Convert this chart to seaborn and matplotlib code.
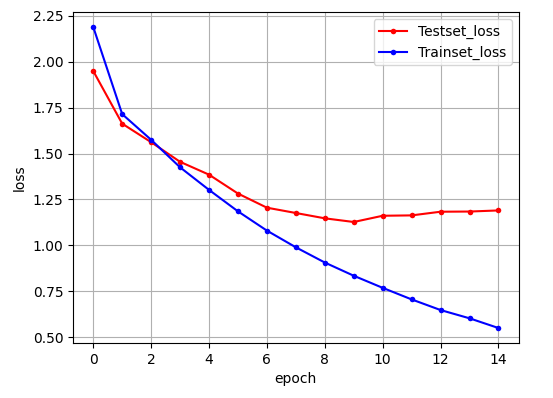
import numpy as np
import pandas as pd
import seaborn as sns
import matplotlib
matplotlib.use('Agg')
import matplotlib.pyplot as plt

epoch = list(range(15))
test_loss = [1.95, 1.663, 1.562, 1.455, 1.385, 1.282, 1.205, 1.176, 1.147, 1.127,
             1.161, 1.163, 1.183, 1.184, 1.19]
train_loss = [2.19, 1.715, 1.575, 1.425, 1.302, 1.185, 1.08, 0.989, 0.906, 0.834,
              0.768, 0.705, 0.647, 0.602, 0.549]

df = pd.DataFrame({'epoch': epoch, 'Testset_loss': test_loss, 'Trainset_loss': train_loss})

fig, ax = plt.subplots(figsize=(5.53, 3.98), dpi=100)
sns.lineplot(data=df, x='epoch', y='Testset_loss', color='red', marker='.',
             markersize=8, markeredgewidth=0, label='Testset_loss', ax=ax)
sns.lineplot(data=df, x='epoch', y='Trainset_loss', color='blue', marker='.',
             markersize=8, markeredgewidth=0, label='Trainset_loss', ax=ax)
ax.set_xlabel('epoch')
ax.set_ylabel('loss')
ax.set_xticks(np.arange(0, 15, 2))
ax.grid(True)
ax.legend(loc='upper right')
plt.subplots_adjust(left=0.132, right=0.938, top=0.97, bottom=0.138)
plt.savefig('out.png', dpi=100)
